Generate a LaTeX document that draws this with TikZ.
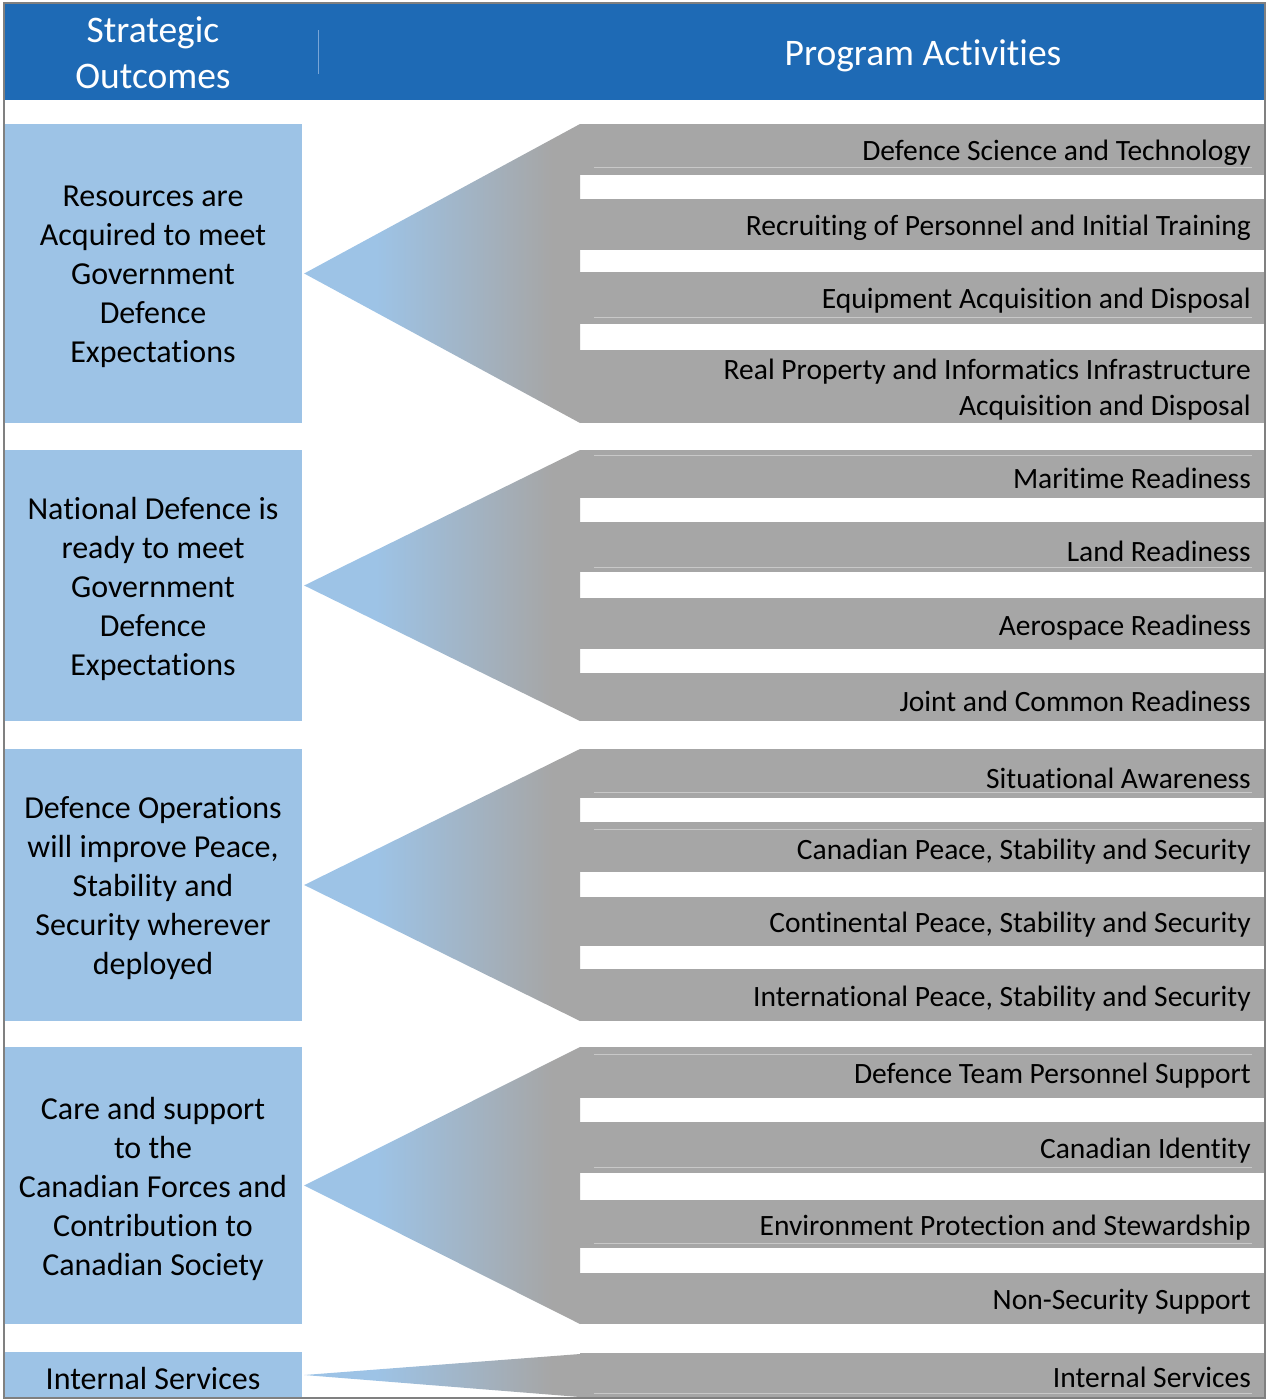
\documentclass[tikz,border=0pt]{standalone}
\usepackage{fontspec}
\setmainfont{Carlito}[Ligatures=NoCommon]
\usepackage{tikz}
\usetikzlibrary{positioning}
\usepackage{xcolor}

\definecolor{hdrblue}{RGB}{30,106,181}
\definecolor{soblue}{RGB}{157,195,230}
\definecolor{bargray}{RGB}{166,166,166}
\definecolor{rulegray}{RGB}{200,200,200}
\definecolor{framegray}{RGB}{128,128,128}
\definecolor{divblue}{RGB}{120,165,215}

% fan from outcome box to the activity bars (box of the path = 25bp..75bp)
\pgfdeclarehorizontalshading{fanshade}{100bp}{color(0bp)=(soblue); color(25bp)=(soblue); color(38bp)=(soblue); color(70bp)=(bargray); color(100bp)=(bargray)}

\begin{document}
\begin{tikzpicture}[
    x=1pt, y=-1pt,
    outcome/.style={fill=soblue, inner sep=0, minimum width=298},
    outcometext/.style={align=center, inner sep=0, yshift=-3pt,
        font=\fontsize{32}{39}\selectfont},
    activity/.style={anchor=east, align=right, inner sep=0,
        font=\fontsize{29.5}{36}\selectfont},
    header/.style={text=white, align=center, inner sep=0,
        font=\fontsize{37.5}{46}\selectfont},
    bar/.style={fill=bargray},
    gap/.style={fill=white},
    rule/.style={draw=rulegray, line width=1pt},
    fan/.style={shading=fanshade}
]
    \useasboundingbox (0,0) rectangle (1266,1400);

    % Header
    \fill[hdrblue] (4,3) rectangle (1266,100);
    \node[header] (hdrso) at (153,53) {Strategic\\Outcomes};
    \node[header] (hdrpa) at (923,56) {Program Activities};
    \draw[divblue, line width=1pt] (318,30) -- (318,74);

    % Outcome 1
    \node[outcome, minimum height=299] (so1) at (153,273.5) {};
    \node[outcometext] (so1t) at (so1.center)
        {Resources are\\Acquired to meet\\Government\\Defence\\Expectations};
    \fill[bar] (580,124) rectangle (1266,423);
    \foreach \a/\b in {175/199, 250/272, 324/350}
        \fill[gap] (580,\a) rectangle (1266,\b);
    \foreach \y in {167, 317}
        \draw[rule] (594,\y) -- (1252,\y);
    \shade[fan] ([xshift=2pt]so1.east) -- (580,124) -- (580,423) -- cycle;
    \node[activity] (pa1) at (1251,153) {Defence Science and Technology};
    \node[activity] (pa2) at (1251,228) {Recruiting of Personnel and Initial Training};
    \node[activity] (pa3) at (1251,301) {Equipment Acquisition and Disposal};
    \node[activity] (pa4) at (1251,390) {Real Property and Informatics Infrastructure\\Acquisition and Disposal};

    % Outcome 2
    \node[outcome, minimum height=271] (so2) at (153,585.5) {};
    \node[outcometext] (so2t) at (so2.center)
        {National Defence is\\ready to meet\\Government\\Defence\\Expectations};
    \fill[bar] (580,450) rectangle (1266,721);
    \foreach \a/\b in {498/522, 572/598, 649/673}
        \fill[gap] (580,\a) rectangle (1266,\b);
    \foreach \y in {455, 567}
        \draw[rule] (594,\y) -- (1252,\y);
    \shade[fan] ([xshift=2pt]so2.east) -- (580,450) -- (580,721) -- cycle;
    \node[activity] (pa5) at (1251,478) {Maritime Readiness};
    \node[activity] (pa6) at (1251,551) {Land Readiness};
    \node[activity] (pa7) at (1251,628) {Aerospace Readiness};
    \node[activity] (pa8) at (1251,701) {Joint and Common Readiness};

    % Outcome 3
    \node[outcome, minimum height=272] (so3) at (153,885) {};
    \node[outcometext] (so3t) at (so3.center)
        {Defence Operations\\will improve Peace,\\Stability and\\Security wherever\\deployed};
    \fill[bar] (580,749) rectangle (1266,1021);
    \foreach \a/\b in {798/822, 872/897, 946/969}
        \fill[gap] (580,\a) rectangle (1266,\b);
    \foreach \y in {792, 829}
        \draw[rule] (594,\y) -- (1252,\y);
    \shade[fan] ([xshift=2pt]so3.east) -- (580,749) -- (580,1021) -- cycle;
    \node[activity] (pa9) at (1251,778) {Situational Awareness};
    \node[activity] (pa10) at (1251,852) {Canadian Peace, Stability and Security};
    \node[activity] (pa11) at (1251,925) {Continental Peace, Stability and Security};
    \node[activity] (pa12) at (1251,999) {International Peace, Stability and Security};

    % Outcome 4
    \node[outcome, minimum height=277] (so4) at (153,1185.5) {};
    \node[outcometext] (so4t) at (so4.center)
        {Care and support\\to the\\Canadian Forces and\\Contribution to\\Canadian Society};
    \fill[bar] (580,1047) rectangle (1266,1324);
    \foreach \a/\b in {1098/1122, 1173/1200, 1248/1273}
        \fill[gap] (580,\a) rectangle (1266,\b);
    \foreach \y in {1054, 1167, 1243}
        \draw[rule] (594,\y) -- (1252,\y);
    \shade[fan] ([xshift=2pt]so4.east) -- (580,1047) -- (580,1324) -- cycle;
    \node[activity] (pa13) at (1251,1076) {Defence Team Personnel Support};
    \node[activity] (pa14) at (1251,1151) {Canadian Identity};
    \node[activity] (pa15) at (1251,1228) {Environment Protection and Stewardship};
    \node[activity] (pa16) at (1251,1302) {Non-Security Support};

    % Internal services
    \node[outcome, minimum height=46] (so5) at (153,1375) {};
    \node[outcometext] (so5t) at (so5.center) {Internal Services};
    \fill[bar] (580,1353) rectangle (1266,1398);
    \draw[rule] (594,1393) -- (1252,1393);
    \shade[fan] ([xshift=2pt]so5.east) -- (580,1354) -- (580,1397) -- cycle;
    \node[activity] (pa17) at (1251,1377) {Internal Services};

    % Frame
    \draw[framegray, line width=2pt] (4,3) rectangle (1265,1398);
\end{tikzpicture}
\end{document}
